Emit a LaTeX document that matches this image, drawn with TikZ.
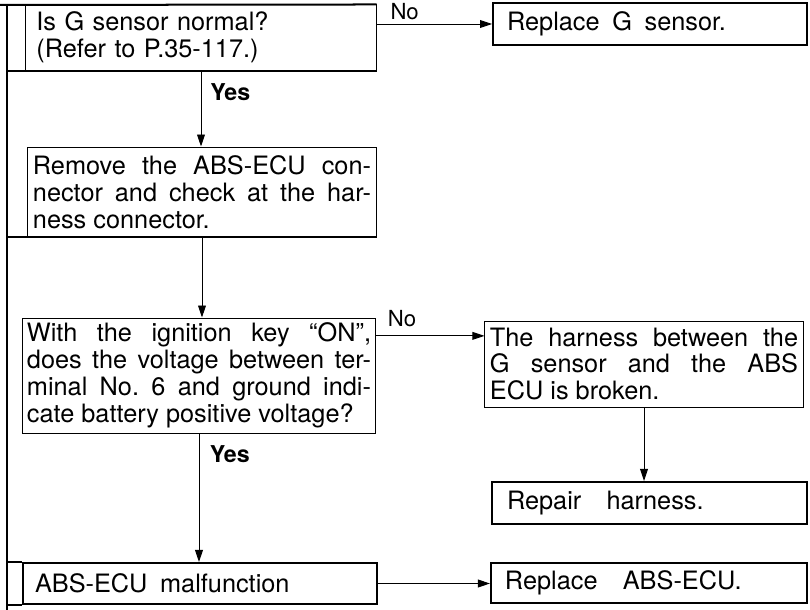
\documentclass[tikz,border=0pt]{standalone}
\usepackage{fontspec}
\setmainfont{TeX Gyre Heros}
\usetikzlibrary{arrows.meta, positioning, calc}
\tolerance=10000
\hyphenpenalty=10000
\frenchspacing
\tikzset{
  every picture/.style={font=\fontsize{24}{25.5}\selectfont, line width=0.9pt},
  box/.style={draw, line width=0.9pt, inner ysep=0pt, align=justify},
  tbox/.style={box, line width=1.9pt},
  arrow/.style={-{Triangle[length=4mm, width=2.6mm]}, line width=0.9pt},
  rule/.style={line width=1.9pt},
  lbl/.style={inner sep=0pt, font=\fontsize{21}{21}\selectfont},
  yes/.style={inner sep=0pt, font=\fontsize{22}{22}\selectfont\bfseries},
}

\begin{document}
\begin{tikzpicture}
  \useasboundingbox (0,0) rectangle (27,20.333);
  \node[box, text width=10.97cm, inner xsep=0.35cm, minimum height=2.17cm, align=left] (q1) at (6.7,19.083) {Is G sensor normal?\\(Refer to P.35-117.)};
  \node[tbox, text width=9.53cm, inner xsep=0.467cm, minimum height=1.4cm, align=left] (rg) at (21.667,19.533) {Replace\enskip G\enskip sensor.};
  \node[box, text width=11.27cm, inner xsep=0.167cm, minimum height=3cm] (rm) at (6.733,13.933) {Remove the ABS-ECU con-\linebreak nector and check at the har-\linebreak ness connector.};
  \node[box, text width=11.47cm, inner xsep=0.133cm, minimum height=3.833cm] (q2) at (6.633,7.817) {With the ignition key “ON”,\linebreak does the voltage between ter-\linebreak minal No. 6 and ground indi-\linebreak cate battery positive voltage?};
  \node[box, text width=10.27cm, inner xsep=0.167cm, minimum height=2.867cm] (hb) at (21.467,8.2) {The harness between the\linebreak G sensor and the ABS\linebreak ECU is broken.};
  \node[tbox, text width=9.5cm, inner xsep=0.5cm, minimum height=1.4cm, align=left] (rh) at (21.65,3.567) {Repair\quad harness.};
  \node[tbox, text width=11cm, inner xsep=0.4cm, minimum height=1.367cm, align=left] (am) at (6.667,0.883) {ABS-ECU\enskip malfunction};
  \node[tbox, text width=9.6cm, inner xsep=0.467cm, minimum height=1.333cm, align=left] (ra) at (21.633,0.9) {Replace\quad ABS-ECU.};

  \coordinate (r0) at (0.233,20.167);
  \coordinate (r1) at (0.233,0);
  \draw[rule] (0,20.167) -- (q1.north east);
  \draw[rule] (r0) -- (r1);
  \draw[rule] (r0 |- q1.south) -- (q1.south east);
  \draw[rule] (r0 |- rm.south) -- (rm.south east);
  \draw[rule] (r0 |- am.north) -- (am.north west);
  \draw[rule] (r0 |- am.south) -- (am.south west);

  \coordinate (n1) at (q1.east |- rg.west);
  \coordinate (n2) at ([yshift=1.32cm]q2.east);
  \draw[arrow] (n1) -- (rg.west);
  \draw[arrow] (q1.south) -- (q1.south |- rm.north);
  \draw[arrow] (rm.south) -- (rm.south |- q2.north);
  \draw[arrow] (n2) -- (n2 -| hb.west);
  \draw[arrow] (q2.south) -- (q2.south |- am.north);
  \draw[arrow] (hb.south) -- (hb.south |- rh.north);
  \draw[arrow] (am.east) -- (am.east -| ra.west);

  \node[lbl, above right=0.12cm and 0.45cm of n1] (no1) {No};
  \node[lbl, above right=0.3cm and 0.4cm of n2] (no2) {No};
  \node[yes, below right=0.43cm and 0.3cm of q1.south] (yes1) {Yes};
  \node[yes, below right=0.4cm and 0.35cm of q2.south] (yes2) {Yes};
\end{tikzpicture}
\end{document}
